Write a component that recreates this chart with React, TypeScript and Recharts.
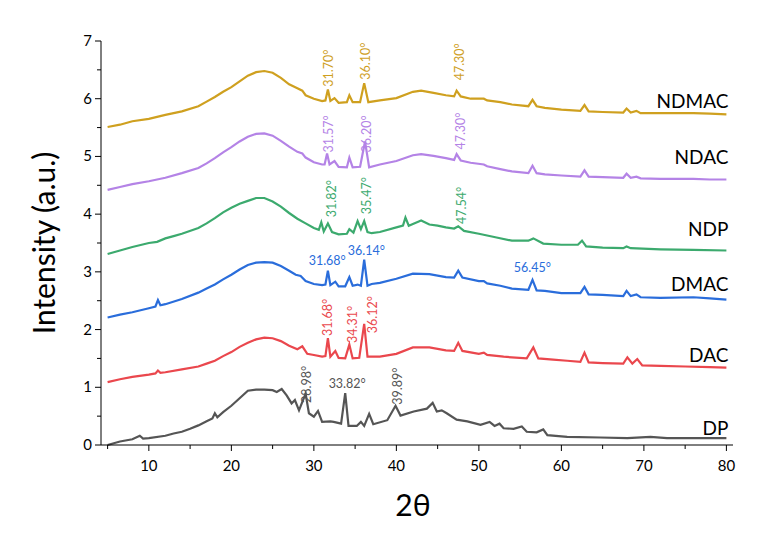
import React from 'react';
import { LineChart, Line, XAxis, YAxis, ReferenceDot } from 'recharts';

type Pt = [number, number];

// XRD patterns, [2θ, intensity] (already vertically offset)
const ndmac: Pt[] = [
  [5, 5.51], [6.5, 5.55], [8, 5.61], [10, 5.65], [12, 5.72], [14, 5.78], [16, 5.87], [17, 5.95],
  [18, 6.03], [19, 6.12], [20, 6.2], [21, 6.3], [22, 6.4], [23, 6.46], [24, 6.48], [25, 6.45],
  [26, 6.36], [27, 6.25], [28, 6.18], [28.6, 6.14], [29, 6.06], [30, 6.0], [31, 5.96], [31.4, 5.97],
  [31.7, 6.16], [32, 5.96], [32.5, 6.01], [33, 5.93], [34, 5.94], [34.3, 6.06], [34.7, 5.94],
  [35.6, 5.94], [36.1, 6.27], [36.6, 5.94], [38, 5.97], [40, 6.01], [42, 6.12], [43, 6.14],
  [44.5, 6.1], [46, 6.06], [47, 6.04], [47.3, 6.14], [47.8, 6.04], [49, 6.0], [50.6, 6.0],
  [51, 5.97], [52.6, 5.94], [54, 5.9], [56, 5.87], [56.5, 5.98], [57, 5.87], [58, 5.84],
  [60, 5.81], [62.3, 5.79], [62.8, 5.89], [63.3, 5.78], [65, 5.77], [67.5, 5.76], [67.9, 5.83],
  [68.4, 5.76], [69.1, 5.79], [69.6, 5.75], [72, 5.75], [76, 5.75], [78, 5.74], [80, 5.73],
];

const ndac: Pt[] = [
  [5, 4.42], [6.5, 4.47], [8, 4.52], [10, 4.57], [12, 4.63], [14, 4.71], [16, 4.8], [17, 4.88],
  [18, 4.97], [19, 5.07], [20, 5.16], [21, 5.26], [22, 5.34], [23, 5.39], [24, 5.4], [25, 5.36],
  [26, 5.27], [27, 5.17], [28, 5.08], [28.6, 5.05], [29, 4.98], [30, 4.9], [31, 4.86], [31.3, 4.86],
  [31.6, 5.05], [31.9, 4.86], [32.5, 4.92], [33, 4.82], [34, 4.81], [34.3, 4.98], [34.7, 4.81],
  [35.6, 4.82], [36.2, 5.26], [36.7, 4.81], [38, 4.86], [40, 4.92], [42, 5.02], [43, 5.04],
  [44.5, 5.01], [46, 4.97], [47, 4.94], [47.3, 5.04], [47.8, 4.93], [49, 4.89], [50.6, 4.86],
  [51, 4.83], [52.6, 4.78], [54, 4.74], [56, 4.71], [56.5, 4.84], [57, 4.71], [58, 4.69],
  [60, 4.67], [62.3, 4.65], [62.8, 4.76], [63.3, 4.65], [65, 4.64], [67.5, 4.63], [67.9, 4.7],
  [68.4, 4.63], [69.1, 4.65], [69.6, 4.62], [72, 4.61], [76, 4.61], [78, 4.6], [80, 4.6],
];

const ndp: Pt[] = [
  [5, 3.31], [6.5, 3.37], [8, 3.43], [10, 3.5], [11, 3.52], [12, 3.58], [13, 3.62], [14, 3.66],
  [16, 3.76], [17, 3.84], [18, 3.93], [19, 4.03], [20, 4.11], [21, 4.18], [22, 4.23], [23, 4.28],
  [24, 4.28], [25, 4.22], [26, 4.13], [27, 4.02], [28, 3.92], [29, 3.84], [30, 3.76], [30.6, 3.73],
  [30.9, 3.86], [31.2, 3.7], [31.7, 3.84], [32.2, 3.69], [33, 3.65], [34, 3.66], [34.3, 3.74],
  [34.8, 3.68], [35.3, 3.88], [35.7, 3.74], [36.1, 3.88], [36.5, 3.69], [37, 3.67], [38, 3.69],
  [40, 3.77], [40.8, 3.8], [41.1, 3.94], [41.5, 3.8], [42.5, 3.86], [43, 3.89], [44, 3.82],
  [45, 3.8], [46, 3.77], [47, 3.75], [47.5, 3.79], [48.2, 3.71], [50, 3.66], [52, 3.6],
  [54, 3.54], [56, 3.54], [56.6, 3.58], [57.8, 3.49], [60, 3.47], [62, 3.47], [62.5, 3.54],
  [63, 3.44], [65, 3.42], [67.5, 3.41], [67.9, 3.44], [68.4, 3.41], [72, 3.39], [76, 3.38], [80, 3.37],
];

const dmac: Pt[] = [
  [5, 2.21], [6.5, 2.26], [8, 2.3], [10, 2.37], [10.8, 2.4], [11.1, 2.51], [11.4, 2.42], [12, 2.44],
  [14, 2.53], [16, 2.64], [17, 2.71], [18, 2.78], [19, 2.87], [20, 2.95], [21, 3.04], [22, 3.12],
  [23, 3.16], [24, 3.17], [25, 3.16], [26, 3.1], [27, 3.02], [27.8, 2.95], [28.4, 2.93], [29, 2.84],
  [30, 2.79], [31, 2.77], [31.4, 2.78], [31.7, 3.02], [32, 2.77], [32.6, 2.83], [33, 2.75],
  [33.8, 2.75], [34.3, 2.91], [34.7, 2.76], [35.3, 2.78], [35.7, 2.76], [36.1, 3.21], [36.5, 2.76],
  [37, 2.79], [38, 2.81], [40, 2.88], [42, 2.97], [44, 2.96], [46, 2.91], [47, 2.9], [47.5, 3.02],
  [48, 2.9], [50, 2.84], [50.6, 2.84], [51, 2.8], [52.6, 2.76], [54, 2.71], [56, 2.69], [56.5, 2.86],
  [57, 2.68], [58, 2.67], [60, 2.63], [62.3, 2.63], [62.8, 2.74], [63.3, 2.61], [65, 2.6],
  [67.5, 2.58], [67.9, 2.67], [68.4, 2.58], [69.1, 2.61], [69.6, 2.56], [72, 2.55], [76, 2.56],
  [78, 2.54], [80, 2.52],
];

const dac: Pt[] = [
  [5, 1.09], [6.5, 1.14], [8, 1.18], [10, 1.22], [10.8, 1.24], [11.1, 1.29], [11.4, 1.25], [12, 1.26],
  [14, 1.31], [16, 1.36], [17, 1.41], [18, 1.46], [19, 1.54], [20, 1.61], [21, 1.7], [22, 1.77],
  [23, 1.83], [24, 1.86], [25, 1.85], [26, 1.8], [27, 1.72], [28, 1.66], [28.6, 1.71], [29.2, 1.58],
  [30, 1.56], [31, 1.53], [31.4, 1.54], [31.7, 1.85], [32, 1.53], [32.6, 1.63], [33, 1.51],
  [33.8, 1.5], [34.3, 1.74], [34.7, 1.5], [35.5, 1.51], [36.1, 2.1], [36.5, 1.53], [38, 1.53],
  [40, 1.58], [42, 1.69], [44, 1.69], [46, 1.64], [47, 1.63], [47.5, 1.77], [48, 1.63], [50, 1.58],
  [50.6, 1.6], [51, 1.56], [53, 1.53], [55.8, 1.5], [56.6, 1.69], [57.2, 1.5], [59, 1.48],
  [60.7, 1.46], [62.3, 1.44], [62.8, 1.6], [63.3, 1.43], [65, 1.42], [67.5, 1.41], [68, 1.52],
  [68.6, 1.41], [69.2, 1.49], [69.8, 1.38], [72, 1.37], [75, 1.36], [78, 1.35], [80, 1.34],
];

const dp: Pt[] = [
  [5, 0.0], [6.5, 0.06], [8, 0.1], [8.9, 0.16], [9.3, 0.11], [10, 0.12], [12, 0.16], [13, 0.2],
  [14, 0.23], [15, 0.28], [16, 0.34], [17, 0.41], [17.7, 0.46], [18, 0.55], [18.3, 0.48], [19, 0.57],
  [20, 0.68], [21, 0.81], [22, 0.94], [23, 0.96], [24, 0.96], [25, 0.95], [25.5, 0.92], [26.1, 0.97],
  [26.7, 0.86], [27.3, 0.72], [27.7, 0.78], [28.2, 0.6], [29, 0.89], [29.4, 0.55], [30, 0.49],
  [30.5, 0.59], [31, 0.4], [32, 0.41], [32.4, 0.4], [33.3, 0.37], [33.8, 0.9], [34.2, 0.33],
  [35.2, 0.33], [35.7, 0.4], [36.1, 0.33], [36.7, 0.54], [37.2, 0.36], [38.9, 0.43], [39.9, 0.68],
  [40.5, 0.51], [42.1, 0.58], [43.7, 0.63], [44.4, 0.73], [44.9, 0.58], [45.5, 0.6], [46.1, 0.55],
  [47.3, 0.44], [48.6, 0.41], [50.2, 0.35], [51.3, 0.4], [51.9, 0.33], [52.5, 0.37], [53, 0.29],
  [54.2, 0.28], [55.2, 0.32], [55.8, 0.23], [57, 0.22], [57.8, 0.27], [58.3, 0.17], [60.7, 0.14],
  [64.7, 0.13], [68, 0.12], [70.8, 0.14], [72.8, 0.12], [76, 0.12], [80, 0.12],
];

const seriesNames = ['NDMAC', 'NDAC', 'NDP', 'DMAC', 'DAC', 'DP'];
const seriesData = [ndmac, ndac, ndp, dmac, dac, dp];
const seriesColors = ['#CFA01F', '#B483E6', '#3CAA6E', '#2A6DDB', '#EA474D', '#555555'];
const nameY = [5.96, 4.98, 3.73, 2.78, 1.56, 0.29];

// peak labels: text, 2θ, intensity, series index, rotated?
const peakText = [
  '31.70°', '36.10°', '47.30°',
  '31.57°', '36.20°', '47.30°',
  '31.82°', '35.47°', '47.54°',
  '31.68°', '36.14°', '56.45°',
  '31.68°', '34.31°', '36.12°',
  '28.98°', '33.82°', '39.89°',
];
const peakX = [31.74, 36.22, 47.62, 31.74, 36.34, 47.74, 32.1, 36.34, 47.96, 31.62, 36.35, 56.47, 31.62, 34.65, 37.07, 29.07, 34.04, 40.1];
const peakY = [6.53, 6.65, 6.64, 5.39, 5.39, 5.44, 4.27, 4.32, 4.15, 3.2, 3.37, 3.08, 2.21, 2.09, 2.26, 1.05, 1.07, 1.02];
const peakSeries = [0, 0, 0, 1, 1, 1, 2, 2, 2, 3, 3, 3, 4, 4, 4, 5, 5, 5];
const peakRotated = [1, 1, 1, 1, 1, 1, 1, 1, 1, 0, 0, 0, 1, 1, 1, 1, 0, 1];

const xTicks = [5, 10, 15, 20, 25, 30, 35, 40, 45, 50, 55, 60, 65, 70, 75, 80];
const yTicks = [0, 0.5, 1, 1.5, 2, 2.5, 3, 3.5, 4, 4.5, 5, 5.5, 6, 6.5, 7];

const XTick = (props: any) => {
  const { x, y, payload } = props;
  const major = payload.value % 10 === 0;
  return (
    <g>
      <line x1={x} x2={x} y1={y} y2={y + (major ? 6 : 4)} stroke="#000" />
      {major && (
        <text x={x} y={y + 26} textAnchor="middle" fontSize={15} fill="#000">
          {payload.value}
        </text>
      )}
    </g>
  );
};

const YTick = (props: any) => {
  const { x, y, payload } = props;
  const major = Number.isInteger(payload.value);
  return (
    <g>
      <line x1={x} x2={x - (major ? 6 : 4)} y1={y} y2={y} stroke="#000" />
      {major && (
        <text x={x - 9} y={y + 5} textAnchor="end" fontSize={15} fill="#000">
          {payload.value}
        </text>
      )}
    </g>
  );
};

const App = () => {
  return (
    <div style={{ position: 'absolute', left: 0, top: 0, fontFamily: 'Lato, sans-serif', background: '#fff' }}>
      <LineChart width={769} height={533} margin={{ top: 41, right: 36, left: 41, bottom: 0 }}>
        <XAxis
          type="number"
          dataKey="x"
          domain={[4.2, 80.8]}
          ticks={xTicks}
          interval={0}
          tickLine={false}
          tickSize={0}
          tickMargin={0}
          tick={XTick}
          height={88}
          allowDataOverflow
          stroke="#000"
          label={{
            content: (p: any) => (
              <text x={p.viewBox.x + p.viewBox.width / 2 - 4} y={p.viewBox.y + 71} textAnchor="middle" fontSize={30} fill="#000">
                2θ
              </text>
            ),
          }}
        />
        <YAxis
          type="number"
          domain={[0, 7]}
          ticks={yTicks}
          interval={0}
          tickLine={false}
          tickSize={0}
          tickMargin={0}
          tick={YTick}
          width={60}
          stroke="#000"
          label={{
            content: (p: any) => {
              const cx = p.viewBox.x + 14;
              const cy = p.viewBox.y + p.viewBox.height / 2;
              return (
                <text x={cx} y={cy} transform={`rotate(-90 ${cx} ${cy})`} textAnchor="middle" fontSize={30} fill="#000">
                  Intensity (a.u.)
                </text>
              );
            },
          }}
        />
        {seriesData.map((pts, i) => (
          <Line
            key={seriesNames[i]}
            data={pts.map(([x, y]) => ({ x, y }))}
            dataKey="y"
            type="linear"
            stroke={seriesColors[i]}
            strokeWidth={2.2}
            dot={false}
            isAnimationActive={false}
          />
        ))}
        {seriesNames.map((name, i) => (
          <ReferenceDot
            key={'n' + name}
            x={80}
            y={nameY[i]}
            r={0}
            fill="none"
            stroke="none"
            ifOverflow="visible"
            label={{ value: name, position: 'left', offset: -2, fontSize: 19, fill: '#000' }}
          />
        ))}
        {peakText.map((t, i) => (
          <ReferenceDot
            key={'p' + i}
            x={peakX[i]}
            y={peakY[i]}
            r={0}
            fill="none"
            stroke="none"
            ifOverflow="visible"
            label={{
              value: t,
              position: 'center',
              angle: peakRotated[i] ? -90 : 0,
              fontSize: 12.5,
              fill: seriesColors[peakSeries[i]],
            }}
          />
        ))}
      </LineChart>
    </div>
  );
};

export default App;
